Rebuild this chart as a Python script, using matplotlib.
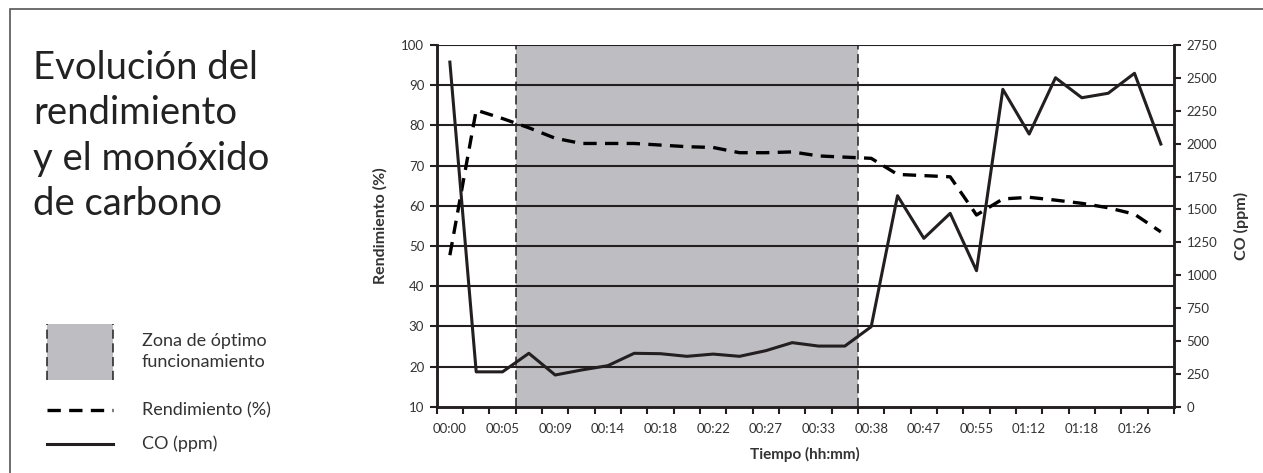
import numpy as np
import matplotlib.pyplot as plt
from matplotlib.patches import Rectangle
from matplotlib.lines import Line2D

plt.rcParams['font.family'] = ['Lato', 'DejaVu Sans']

# Data
rendimiento = [47.7, 83.8, 81.7, 79.4, 76.8, 75.5, 75.5, 75.5, 75.1, 74.7, 74.5, 73.2, 73.2, 73.4,
               72.4, 72.1, 71.8, 67.8, 67.5, 67.2, 57.7, 61.7, 62.1, 61.4, 60.6, 59.5, 57.9, 53.5]
co_ppm = [2620, 265, 265, 406, 241, 279, 312, 406, 403, 383, 400, 383, 426, 487,
          461, 461, 608, 1604, 1280, 1470, 1034, 2413, 2073, 2501, 2349, 2383, 2535, 1997]
tick_labels = ['00:00', '00:05', '00:09', '00:14', '00:18', '00:22', '00:27',
               '00:33', '00:38', '00:47', '00:55', '01:12', '01:18', '01:26']
zona_optima = (3, 15)  # first and last category inside the zone

ink = '#231f20'
txt = '#333333'
shade = '#bebdc2'

fig = plt.figure(figsize=(12.63, 4.73), dpi=100)

# outer frame
fig.patches.append(Rectangle((10 / 1263, -0.01), 1.1, 1 - 9 / 473 + 0.01, transform=fig.transFigure,
                             fill=False, edgecolor='#555555', linewidth=1.2))

ax = fig.add_axes([436.7 / 1263, 1 - 406.7 / 473, (1174 - 436.7) / 1263, (406.7 - 45) / 473])
x = np.arange(len(rendimiento))

# optimum zone
z0, z1 = zona_optima[0] - 0.5, zona_optima[1] + 0.5
ax.axvspan(z0, z1, color=shade, lw=0, zorder=0)
for xv in (z0, z1):
    ax.axvline(xv, color=ink, lw=1.1, ls=(0, (6, 3)), zorder=1)

ax.set_ylim(10, 100)
ax.set_xlim(-0.5, len(rendimiento) - 0.5)
ax.set_yticks(np.arange(10, 101, 10))
for yv in np.arange(20, 101, 10):
    ax.axhline(yv, color=ink, lw=1.5, zorder=1)

ax.plot(x, rendimiento, color='black', lw=2.4, ls=(0, (4, 2.5)), zorder=4)

ax2 = ax.twinx()
ax2.set_ylim(0, 2750)
ax2.set_yticks(np.arange(0, 2751, 250))
ax2.plot(x, co_ppm, color=ink, lw=2.2, zorder=4)

# x ticks at category boundaries, labels on every other category
ax.set_xticks(np.arange(-0.5, len(rendimiento), 1))
ax.set_xticklabels([])
ax.set_xticks(np.arange(0, 2 * len(tick_labels), 2), minor=True)
ax.set_xticklabels(tick_labels, minor=True)
ax.tick_params(axis='x', which='minor', length=0, pad=12, labelsize=9.5, labelcolor=txt)
ax.tick_params(axis='x', which='major', length=5, width=1.5, color=ink, direction='out')
ax.tick_params(axis='y', length=5, width=1.5, color=ink, labelsize=9.5, labelcolor=txt, pad=4)
ax2.tick_params(axis='y', length=5, width=1.5, color=ink, labelsize=9.5, labelcolor=txt, pad=4)

for a in (ax, ax2):
    for s in a.spines.values():
        s.set_linewidth(1.8)
        s.set_color(ink)
    a.spines['top'].set_visible(False)

ax.set_xlabel('Tiempo (hh:mm)', fontsize=11, fontweight='bold', color=txt, labelpad=8)
ax.set_ylabel('Rendimiento (%)', fontsize=11.5, fontweight='bold', color=txt, labelpad=10)
ax2.set_ylabel('CO (ppm)', fontsize=11.5, fontweight='bold', color=txt, labelpad=12)

# title
fig.text(33 / 1263, 1 - 50 / 473, 'Evolución del\nrendimiento\ny el monóxido\nde carbono',
         fontsize=27.5, color='#222222', va='top', ha='left', linespacing=1.32)

# legend
lx0, lx1 = 47 / 1263, 113 / 1263
fig.patches.append(Rectangle((lx0, 1 - 380 / 473), lx1 - lx0, 56 / 473, transform=fig.transFigure,
                             facecolor=shade, edgecolor='none'))
for xv in (lx0, lx1):
    fig.add_artist(Line2D([xv, xv], [1 - 380 / 473, 1 - 324 / 473], transform=fig.transFigure,
                          color=ink, lw=1.1, ls=(0, (6, 3))))
fs_leg = 13
fig.text(142 / 1263, 1 - 341 / 473, 'Zona de óptimo', fontsize=fs_leg, color=txt, va='center')
fig.text(142 / 1263, 1 - 362 / 473, 'funcionamiento', fontsize=fs_leg, color=txt, va='center')
fig.add_artist(Line2D([lx0, lx1], [1 - 410 / 473] * 2, transform=fig.transFigure,
                      color='black', lw=2.4, ls=(0, (4, 2.5))))
fig.text(142 / 1263, 1 - 410 / 473, 'Rendimiento (%)', fontsize=fs_leg, color=txt, va='center')
fig.add_artist(Line2D([lx0, lx1], [1 - 444 / 473] * 2, transform=fig.transFigure,
                      color=ink, lw=2.2))
fig.text(142 / 1263, 1 - 444 / 473, 'CO (ppm)', fontsize=fs_leg, color=txt, va='center')

fig.savefig('out.png', dpi=100)
